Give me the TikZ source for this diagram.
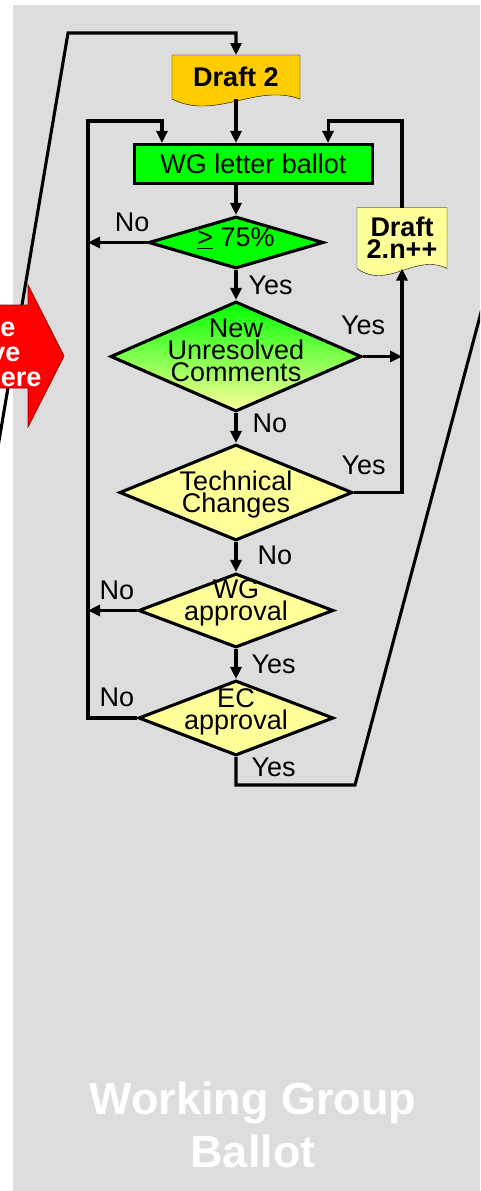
\documentclass[tikz,border=0pt]{standalone}
\usepackage{fontspec}
\setmainfont{Liberation Sans}
\usetikzlibrary{shapes.geometric,arrows.meta,calc,backgrounds}

\definecolor{panelgrey}{HTML}{DDDDDD}
\definecolor{ballotgreen}{HTML}{00FF00}
\definecolor{draftorange}{HTML}{FFCC00}
\definecolor{paleyellow}{HTML}{FFFF99}
\definecolor{hereRed}{HTML}{FF0000}

\tikzset{
  txt/.style={font=\fontsize{27}{22}\selectfont, align=center},
  bold/.style={font=\fontsize{27}{22}\selectfont\bfseries, align=center},
  dec/.style={diamond, draw, inner sep=0pt, fill=paleyellow},
  doc/.style={bold, inner sep=0pt, outer sep=0pt},
  lbl/.style={txt, inner sep=1pt},
}

\begin{document}
\begin{tikzpicture}[x=1pt, y=-1pt, line width=3.1pt, >={Triangle[length=12pt,width=11pt]}]
  \useasboundingbox (0,0) rectangle (480,1191);
  \clip (0,0) rectangle (480,1191);

  \node[doc, minimum width=128pt, minimum height=44pt] (d2) at (236,77) {Draft 2};
  \node[txt, draw, fill=ballotgreen, inner sep=0pt, minimum width=238pt, minimum height=39pt] (wgl) at (253.5,164) {WG letter ballot};
  \node[dec, fill=ballotgreen, minimum width=175pt, minimum height=52pt,
        label={[txt,yshift=4.5pt]center:\underline{>} 75\%}] (q75) at (236,242.5) {};
  \node[dec, top color=ballotgreen, bottom color=paleyellow, minimum width=251pt, minimum height=110pt,
        label={[txt,yshift=6pt]center:New\\Unresolved\\Comments}] (nuc) at (236,356.5) {};
  \node[dec, minimum width=233pt, minimum height=96pt,
        label={[txt,yshift=-2.5pt]center:Technical\\Changes}] (tc) at (236,492.5) {};
  \node[dec, minimum width=195pt, minimum height=74pt,
        label={[txt,yshift=7.5pt]center:WG\\approval}] (wga) at (236,610.5) {};
  \node[dec, minimum width=195pt, minimum height=75pt,
        label={[txt,yshift=6pt]center:EC\\approval}] (eca) at (236,718) {};
  \node[doc, minimum width=90pt, minimum height=61pt] (dn) at (402,238) {Draft\\2.n++};

  \coordinate (T) at (68,33);
  \coordinate (inL) at (-11,500);
  \coordinate (L) at (88,121);
  \coordinate (R) at (402,121);
  \coordinate (B) at (355,785);
  \coordinate (outR) at (503,230);

  \draw[->] (inL) -- (T) -| (d2.north);
  \draw[->] (d2.south) -- (d2.south |- wgl.north);
  \draw[->] (wgl.south -| q75) -- (q75.north);
  \draw[->] (q75.west) -- node[lbl, above=8pt, pos=0.25] {No} (q75.west -| L);
  \draw[->] (q75.south) -- node[lbl, right=10pt] {Yes} (nuc.north);
  \draw[->] (nuc.east) -- node[lbl, above=19pt, pos=0] {Yes} (nuc.east -| dn);
  \draw[->] (nuc.south) -- node[lbl, right=14pt, pos=0.35] {No} (tc.north);
  \draw[->] (tc.east) -- node[lbl, above=15pt, pos=0.2] {Yes} (tc.east -| dn) -- (dn.south);
  \draw[->] (dn.north) -- (R) -| ($(wgl.north east)+(-46,0)$);
  \draw[->] (tc.south) -- node[lbl, right=19pt, pos=0.45] {No} (wga.north);
  \draw[->] (wga.west) -- node[lbl, above=8pt, pos=0.41] {No} (wga.west -| L);
  \draw[->] (wga.south) -- node[lbl, right=13pt] {Yes} (eca.north);
  \draw[->] (eca.west) -- node[lbl, above=9pt, pos=0.41] {No} (eca.west -| L) -- (L) -| ($(wgl.north west)+(29,0)$);
  \draw (eca.south) -- node[lbl, right=13pt, pos=0.38] {Yes} (eca.south |- B) -- (B) -- (outR);

  \draw[draw=red!60!black, line width=0.8pt, fill=hereRed]
    (-20,305) -- (28,305) -- (28,285) -- (64,356) -- (28,427) -- (28,388) -- (-20,388) -- cycle;
  \node[bold, text=white, inner sep=0pt, anchor=base east] (h1) at (17,336) {e};
  \node[bold, text=white, inner sep=0pt, anchor=base east] (h2) at (22,361) {ve};
  \node[bold, text=white, inner sep=0pt, anchor=base east] (h3) at (43,386) {ere};

  \node[font=\fontsize{45}{53}\selectfont\bfseries, text=white, align=center, inner sep=0pt] (wgb) at (253,1125) {Working Group\\Ballot};

  \begin{pgfonlayer}{background}
    \fill[panelgrey] (13,5) rectangle (480,1191);
    \draw[fill=draftorange] (d2.north west) -- (d2.north east) -- (d2.south east)
      .. controls ($(d2.south east)!0.35!(d2.south west)+(0,-16)$) and ($(d2.south east)!0.66!(d2.south west)+(0,22)$) .. (d2.south west) -- cycle;
    \draw[fill=paleyellow] (dn.north west) -- (dn.north east) -- (dn.south east)
      .. controls ($(dn.south east)!0.35!(dn.south west)+(0,-16)$) and ($(dn.south east)!0.66!(dn.south west)+(0,22)$) .. (dn.south west) -- cycle;
  \end{pgfonlayer}
\end{tikzpicture}
\end{document}
